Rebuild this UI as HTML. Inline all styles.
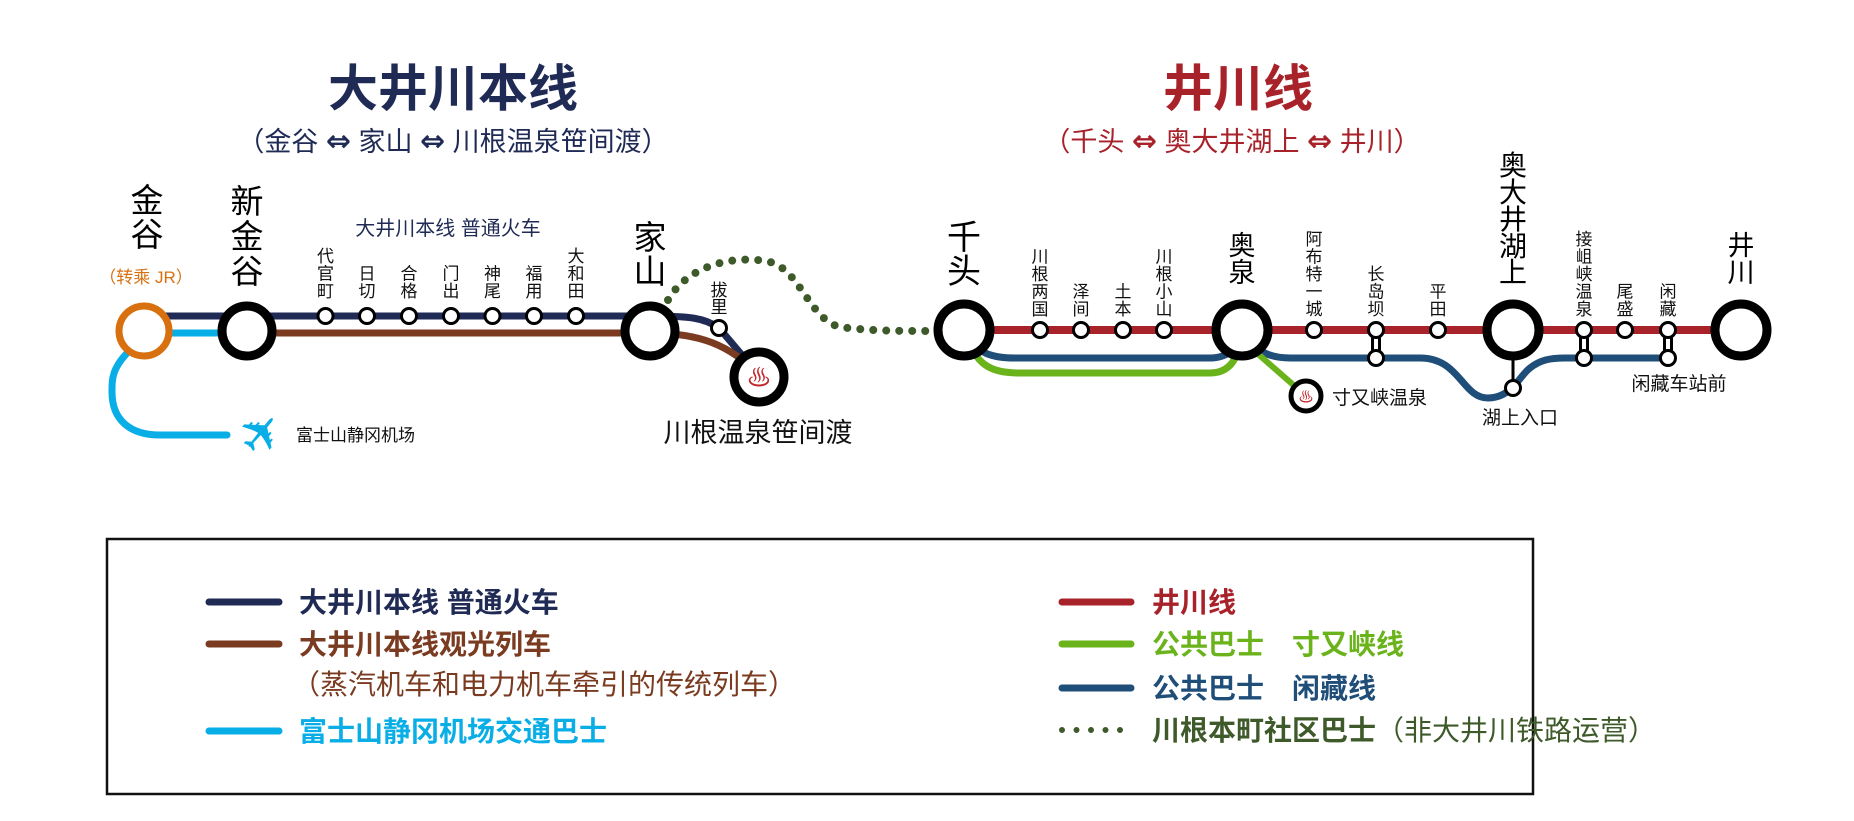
<!DOCTYPE html>
<html><head><meta charset="utf-8"><style>
html,body{margin:0;padding:0;background:#fff}
svg{display:block}
text{font-family:"Liberation Sans","Noto Sans CJK SC",sans-serif}
.ar{font-family:"DejaVu Sans",sans-serif;font-weight:bold;font-size:30px}
</style></head><body>
<svg width="1854" height="821" viewBox="0 0 1854 821" xmlns="http://www.w3.org/2000/svg">
<!-- Titles -->
<text x="453" y="106" font-size="50" font-weight="bold" fill="#1f2a55" text-anchor="middle">大井川本线</text>
<text x="453" y="151" font-size="27" fill="#1f2a55" text-anchor="middle">（金谷 <tspan class="ar">⇔</tspan> 家山 <tspan class="ar">⇔</tspan> 川根温泉笹间渡）</text>
<text x="1238" y="106" font-size="50" font-weight="bold" fill="#a8222a" text-anchor="middle">井川线</text>
<text x="1232" y="151" font-size="27" fill="#a8222a" text-anchor="middle">（千头 <tspan class="ar">⇔</tspan> 奥大井湖上 <tspan class="ar">⇔</tspan> 井川）</text>

<!-- LEFT lines -->
<path d="M130 350 C112 368 112 378 112 392 C112 420 130 435 160 435 H227" fill="none" stroke="#0aaee6" stroke-width="7" stroke-linecap="round"/>
<line x1="144" y1="333" x2="247" y2="333" stroke="#0aaee6" stroke-width="7"/>
<line x1="144" y1="316" x2="650" y2="316" stroke="#1f2a55" stroke-width="7"/>
<line x1="247" y1="333" x2="650" y2="333" stroke="#7a3b20" stroke-width="7"/>
<path d="M650 316 C690 316 705 318 719 328 L759 375" fill="none" stroke="#1f2a55" stroke-width="7"/>
<path d="M650 333 C700 333 730 345 759 375" fill="none" stroke="#7a3b20" stroke-width="7"/>
<!-- dotted -->
<path d="M668 300 C690 262 740 255 770 262 C800 270 810 320 840 327 C870 331 900 331 930 331" fill="none" stroke="#3f5a2a" stroke-width="8" stroke-linecap="round" stroke-dasharray="0 13"/>

<!-- left big stations -->
<circle cx="144" cy="331" r="25" fill="#fff" stroke="#d9700f" stroke-width="7"/>
<circle cx="247" cy="331" r="25" fill="#fff" stroke="#000" stroke-width="9"/>
<circle cx="650" cy="331" r="25" fill="#fff" stroke="#000" stroke-width="9"/>
<circle cx="759" cy="377" r="25" fill="#fff" stroke="#000" stroke-width="9"/>
<text x="759" y="386" font-size="24" fill="#c0282e" text-anchor="middle" font-family="DejaVu Sans">♨</text>

<!-- left small stations -->
<g fill="#fff" stroke="#000" stroke-width="3">
<circle cx="325.5" cy="316" r="7.5"/><circle cx="367" cy="316" r="7.5"/><circle cx="409" cy="316" r="7.5"/><circle cx="451" cy="316" r="7.5"/><circle cx="492.5" cy="316" r="7.5"/><circle cx="534" cy="316" r="7.5"/><circle cx="576" cy="316" r="7.5"/>
<circle cx="719" cy="328" r="7.5"/>
</g>
<g font-size="17" fill="#111" text-anchor="middle">
<text x="325.5" y="262">代</text><text x="325.5" y="279.5">官</text><text x="325.5" y="297">町</text>
<text x="367" y="279.5">日</text><text x="367" y="297">切</text>
<text x="409" y="279.5">合</text><text x="409" y="297">格</text>
<text x="451" y="279.5">门</text><text x="451" y="297">出</text>
<text x="492.5" y="279.5">神</text><text x="492.5" y="297">尾</text>
<text x="534" y="279.5">福</text><text x="534" y="297">用</text>
<text x="576" y="262">大</text><text x="576" y="279.5">和</text><text x="576" y="297">田</text>
<text x="719" y="296">拔</text><text x="719" y="313">里</text>
</g>
<text x="448" y="235" font-size="20" fill="#1f2a55" text-anchor="middle">大井川本线 普通火车</text>
<g font-size="33" fill="#000" text-anchor="middle">
<text x="147" y="212">金</text><text x="147" y="246">谷</text>
<text x="247" y="213">新</text><text x="247" y="248">金</text><text x="247" y="283">谷</text>
<text x="650" y="249">家</text><text x="650" y="283">山</text>
</g>
<text x="146" y="283" font-size="17" fill="#d9700f" text-anchor="middle">（转乘 JR）</text>
<text x="758" y="442" font-size="27" fill="#111" text-anchor="middle">川根温泉笹间渡</text>
<text x="262" y="451" font-size="52" fill="#0aaee6" text-anchor="middle" font-family="DejaVu Sans" transform="rotate(-50 262 434)">✈</text>
<text x="296" y="441" font-size="17" fill="#111">富士山静冈机场</text>

<!-- RIGHT lines -->
<path d="M964 330 C975 355 995 358 1015 358 H1210 C1230 358 1240 345 1242 330" fill="none" stroke="#1f4e79" stroke-width="7"/>
<path d="M1242 330 C1255 352 1270 358 1290 358 H1420 C1460 358 1462 398 1488 398 C1512 398 1520 375 1530 368 C1540 360 1550 358 1565 358 H1668" fill="none" stroke="#1f4e79" stroke-width="7"/>
<path d="M964 330 C975 365 990 373 1020 373 H1210 C1235 373 1240 350 1242 330" fill="none" stroke="#6ab31b" stroke-width="7"/>
<line x1="1242" y1="340" x2="1306" y2="396" stroke="#6ab31b" stroke-width="6"/>
<line x1="964" y1="330" x2="1741" y2="330" stroke="#a8222a" stroke-width="8"/>
<!-- connectors -->
<g stroke="#000" stroke-width="10"><line x1="1376" y1="330" x2="1376" y2="358"/><line x1="1584" y1="330" x2="1584" y2="358"/><line x1="1668" y1="330" x2="1668" y2="358"/></g>
<g stroke="#fff" stroke-width="4"><line x1="1376" y1="330" x2="1376" y2="358"/><line x1="1584" y1="330" x2="1584" y2="358"/><line x1="1668" y1="330" x2="1668" y2="358"/></g>
<line x1="1513" y1="340" x2="1513" y2="388" stroke="#000" stroke-width="3"/>

<!-- right big stations -->
<g fill="#fff" stroke="#000" stroke-width="9">
<circle cx="964" cy="330" r="26"/><circle cx="1242" cy="330" r="26"/><circle cx="1513" cy="330" r="26"/><circle cx="1741" cy="330" r="26"/>
</g>
<circle cx="1306" cy="396" r="15" fill="#fff" stroke="#000" stroke-width="5"/>
<text x="1306" y="402" font-size="15" fill="#c0282e" text-anchor="middle" font-family="DejaVu Sans">♨</text>
<!-- right small stations -->
<g fill="#fff" stroke="#000" stroke-width="3">
<circle cx="1040" cy="330" r="7.5"/><circle cx="1081" cy="330" r="7.5"/><circle cx="1123" cy="330" r="7.5"/><circle cx="1164" cy="330" r="7.5"/>
<circle cx="1314" cy="330" r="7.5"/><circle cx="1376" cy="330" r="7.5"/><circle cx="1438" cy="330" r="7.5"/>
<circle cx="1584" cy="330" r="7.5"/><circle cx="1625" cy="330" r="7.5"/><circle cx="1668" cy="330" r="7.5"/>
<circle cx="1376" cy="358" r="7.5"/><circle cx="1584" cy="358" r="7.5"/><circle cx="1668" cy="358" r="7.5"/>
<circle cx="1513" cy="388" r="7.5"/>
</g>
<g font-size="17" fill="#111" text-anchor="middle">
<text x="1040" y="262.5">川</text><text x="1040" y="280">根</text><text x="1040" y="297.5">两</text><text x="1040" y="315">国</text>
<text x="1081" y="297.5">泽</text><text x="1081" y="315">间</text>
<text x="1123" y="297.5">土</text><text x="1123" y="315">本</text>
<text x="1164" y="262.5">川</text><text x="1164" y="280">根</text><text x="1164" y="297.5">小</text><text x="1164" y="315">山</text>
<text x="1314" y="245">阿</text><text x="1314" y="262.5">布</text><text x="1314" y="280">特</text><text x="1314" y="297.5">一</text><text x="1314" y="315">城</text>
<text x="1376" y="280">长</text><text x="1376" y="297.5">岛</text><text x="1376" y="315">坝</text>
<text x="1438" y="297.5">平</text><text x="1438" y="315">田</text>
<text x="1584" y="245">接</text><text x="1584" y="262.5">岨</text><text x="1584" y="280">峡</text><text x="1584" y="297.5">温</text><text x="1584" y="315">泉</text>
<text x="1625" y="297.5">尾</text><text x="1625" y="315">盛</text>
<text x="1668" y="297.5">闲</text><text x="1668" y="315">藏</text>
</g>
<g fill="#000" text-anchor="middle">
<text x="964" y="249" font-size="34">千</text><text x="964" y="283" font-size="34">头</text>
<text x="1242" y="255" font-size="27">奥</text><text x="1242" y="282" font-size="27">泉</text>
<text x="1741" y="255" font-size="27">井</text><text x="1741" y="282" font-size="27">川</text>
<text x="1513" y="175" font-size="28">奥</text><text x="1513" y="202" font-size="28">大</text><text x="1513" y="229" font-size="28">井</text><text x="1513" y="256" font-size="28">湖</text><text x="1513" y="282" font-size="28">上</text>
</g>
<text x="1332" y="404" font-size="19" fill="#111">寸又峡温泉</text>
<text x="1520" y="424" font-size="19" fill="#111" text-anchor="middle">湖上入口</text>
<text x="1679" y="390" font-size="19" fill="#111" text-anchor="middle">闲藏车站前</text>

<!-- Legend -->
<rect x="107" y="539" width="1426" height="255" fill="none" stroke="#111" stroke-width="2.5"/>
<g stroke-width="7" stroke-linecap="round">
<line x1="209" y1="602" x2="279" y2="602" stroke="#1f2a55"/>
<line x1="209" y1="644" x2="279" y2="644" stroke="#7a3b20"/>
<line x1="209" y1="731" x2="279" y2="731" stroke="#0aaee6"/>
<line x1="1062" y1="602" x2="1131" y2="602" stroke="#a8222a"/>
<line x1="1062" y1="644" x2="1131" y2="644" stroke="#6ab31b"/>
<line x1="1062" y1="688" x2="1131" y2="688" stroke="#1f4e79"/>
<line x1="1062" y1="730" x2="1131" y2="730" stroke="#3f5a2a" stroke-width="6" stroke-dasharray="0 14.5"/>
</g>
<g font-size="28" font-weight="bold">
<text x="299" y="612" fill="#1f2a55">大井川本线 普通火车</text>
<text x="299" y="654" fill="#7a3b20">大井川本线观光列车</text>
<text x="299" y="741" fill="#0aaee6">富士山静冈机场交通巴士</text>
<text x="1152" y="612" fill="#a8222a">井川线</text>
<text x="1152" y="654" fill="#6ab31b">公共巴士　寸又峡线</text>
<text x="1152" y="698" fill="#1f4e79">公共巴士　闲藏线</text>
<text x="1152" y="740" fill="#3f5a2a">川根本町社区巴士<tspan font-weight="normal">（非大井川铁路运营）</tspan></text>
</g>
<text x="292" y="694" font-size="28" fill="#7a3b20">（蒸汽机车和电力机车牵引的传统列车）</text>
</svg>
</body></html>
